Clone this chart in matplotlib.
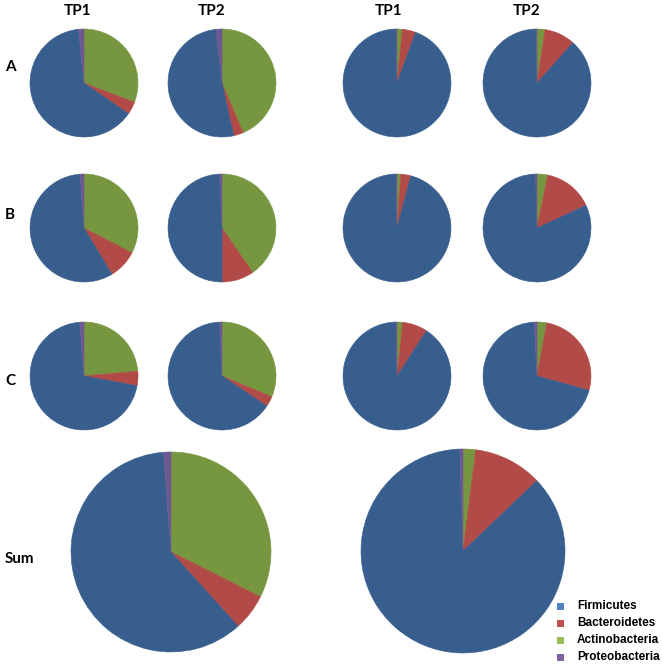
import matplotlib
matplotlib.use("Agg")
import matplotlib.pyplot as plt
from matplotlib.patches import Rectangle

# Phyla in clockwise drawing order (from 12 o'clock)
phyla = ["Actinobacteria", "Bacteroidetes", "Firmicutes", "Proteobacteria"]
legend_order = ["Firmicutes", "Bacteroidetes", "Actinobacteria", "Proteobacteria"]

# Samples: left group (A,B,C x TP1,TP2), right group, and sums
samples = ["L_A_TP1", "L_A_TP2", "R_A_TP1", "R_A_TP2",
           "L_B_TP1", "L_B_TP2", "R_B_TP1", "R_B_TP2",
           "L_C_TP1", "L_C_TP2", "R_C_TP1", "R_C_TP2",
           "L_Sum", "R_Sum"]

actinobacteria = [30.8, 43.6, 1.6, 2.4, 32.6, 40.4, 1.1, 3.2, 23.6, 31.3, 1.7, 2.9, 32.4, 2.0]
bacteroidetes  = [3.8, 2.9, 4.0, 9.2, 8.75, 9.6, 3.0, 14.9, 4.3, 3.1, 7.5, 26.4, 5.9, 10.9]
firmicutes     = [63.8, 51.7, 94.2, 88.2, 57.45, 49.3, 95.7, 81.5, 70.8, 64.9, 90.5, 69.9, 60.5, 86.6]
proteobacteria = [1.6, 1.8, 0.2, 0.2, 1.2, 0.7, 0.2, 0.4, 1.3, 0.7, 0.3, 0.8, 1.2, 0.5]

col_headers = ["TP1", "TP2", "TP1", "TP2"]
row_labels = ["A", "B", "C", "Sum"]

pie_colors = {"Firmicutes": "#385E8E", "Bacteroidetes": "#B24A47",
              "Actinobacteria": "#779640", "Proteobacteria": "#6E5893"}
legend_colors = {"Firmicutes": "#4F81BD", "Bacteroidetes": "#C0504D",
                 "Actinobacteria": "#9BBB59", "Proteobacteria": "#8064A2"}

W, H = 662, 664
fig = plt.figure(figsize=(W / 100, H / 100), dpi=100)
ax = fig.add_axes([0, 0, 1, 1])

# layout (pixel positions, y from top)
col_x = [84, 222, 397, 537]
row_y = [83, 228, 376]
small_r = 54
sum_pos = [(171, 552, 100), (463, 551, 102)]

positions = []
for ry in row_y:
    for cx in col_x:
        positions.append((cx, ry, small_r))
positions += sum_pos

data = {"Actinobacteria": actinobacteria, "Bacteroidetes": bacteroidetes,
        "Firmicutes": firmicutes, "Proteobacteria": proteobacteria}

for i, s in enumerate(samples):
    vals = [data[p][i] for p in phyla]
    cx, cy, r = positions[i]
    wedges, _ = ax.pie(vals, colors=[pie_colors[p] for p in phyla], startangle=90,
                       counterclock=False, center=(cx, H - cy), radius=r)
    for w in wedges:
        w.set_edgecolor(w.get_facecolor())
        w.set_linewidth(0.4)

label_font = dict(family=["Lato", "DejaVu Sans"], fontweight="bold", fontsize=11, color="black")
header_x = [78, 212, 389, 527]
for x, t in zip(header_x, col_headers):
    ax.text(x, H - 11, t, ha="center", va="center", **label_font)

row_label_y = [67, 215, 381, 559]
for y, t in zip(row_label_y, row_labels):
    ax.text(5, H - y, t, ha="left", va="center", **label_font)

# legend
leg_y = [606, 623, 640, 657]
for y, p in zip(leg_y, legend_order):
    ax.add_patch(Rectangle((557, H - y - 3.5), 7, 7, facecolor=legend_colors[p], edgecolor="none"))
    ax.text(577, H - y, p, ha="left", va="center", fontsize=8.5, fontweight="bold",
            family=["Liberation Sans", "DejaVu Sans"])

ax.set_xlim(0, W)
ax.set_ylim(0, H)
ax.set_aspect("equal")
ax.axis("off")
fig.savefig("out.png", dpi=100)
